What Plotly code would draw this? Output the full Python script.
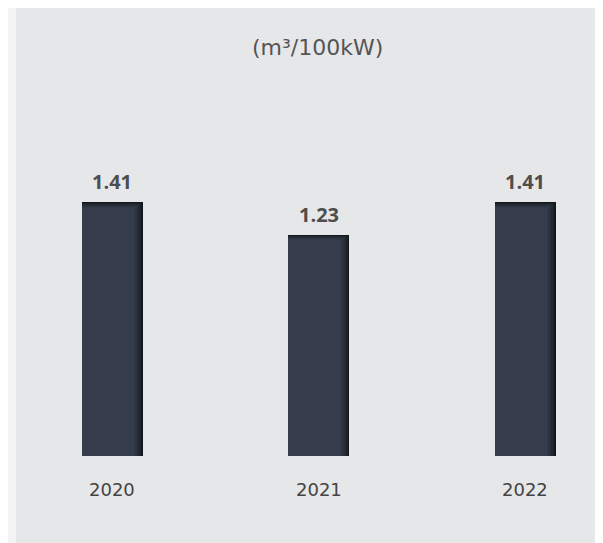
import plotly.graph_objects as go

# ---- data ----
years = ["2020", "2021", "2022"]
values = [1.41, 1.23, 1.41]
value_labels = ["1.41", "1.23", "1.41"]
unit_title = "(m³/100kW)"

# ---- style ----
FONT = "Open Sans"
FONT_WIDE = "DejaVu Sans"
BAR_COLOR = "#353d4c"
SHADOW = "#14171d"
PANEL = "#e6e7e9"
PAPER = "#f3f3f3"

bar_w = 0.295          # category units
px_x = 1 / 206.5       # one pixel in x units
px_y = 1 / 180.0       # one pixel in y units

def mix(c1, c2, t):
    a = [int(c1[i:i + 2], 16) for i in (1, 3, 5)]
    b = [int(c2[i:i + 2], 16) for i in (1, 3, 5)]
    return "#" + "".join(f"{round(a[j] + (b[j] - a[j]) * t):02x}" for j in range(3))

fig = go.Figure()
layers = 7
for k in range(layers):
    t = k / (layers - 1)
    w = bar_w - k * 1.5 * px_x
    fig.add_trace(go.Bar(
        x=years,
        y=[v - k * 0.9 * px_y for v in values],
        width=[w] * len(years),
        offset=-bar_w / 2,
        marker=dict(color=mix(SHADOW, BAR_COLOR, t ** 0.7), line=dict(width=0)),
        hoverinfo="skip",
        showlegend=False,
    ))

annotations = []
for i, (yr, v, lab) in enumerate(zip(years, values, value_labels)):
    annotations.append(dict(
        x=i, y=v, xref="x", yref="y", text=f"<b>{lab}</b>",
        showarrow=False, yanchor="bottom", yshift=5,
        font=dict(family=FONT, size=20, color="#4d4d4d"),
    ))
    annotations.append(dict(
        x=i, y=0, xref="x", yref="y", text=yr,
        showarrow=False, yanchor="top", yshift=-21,
        font=dict(family=FONT_WIDE, size=18, color="#444444"),
    ))
annotations.append(dict(
    x=0.514, y=0.927, xref="paper", yref="paper", text=unit_title,
    showarrow=False, xanchor="center", yanchor="middle",
    font=dict(family=FONT_WIDE, size=22, color="#555555"),
))

fig.update_layout(
    width=595, height=535,
    margin=dict(l=8, r=0, t=0, b=0),
    paper_bgcolor=PANEL,
    plot_bgcolor=PANEL,
    barmode="overlay",
    bargap=0,
    xaxis=dict(type="category", range=[-0.466, 2.376], showticklabels=False,
               showgrid=False, zeroline=False, showline=False, ticks=""),
    yaxis=dict(range=[-0.483, 2.489], showticklabels=False,
               showgrid=False, zeroline=False, showline=False, ticks=""),
    annotations=annotations,
    shapes=[dict(type="rect", xref="paper", yref="paper",
                 x0=-0.05, x1=0, y0=-0.05, y1=1.05,
                 fillcolor=PAPER, line=dict(width=0), layer="below")],
)

fig.write_html("out.html")
